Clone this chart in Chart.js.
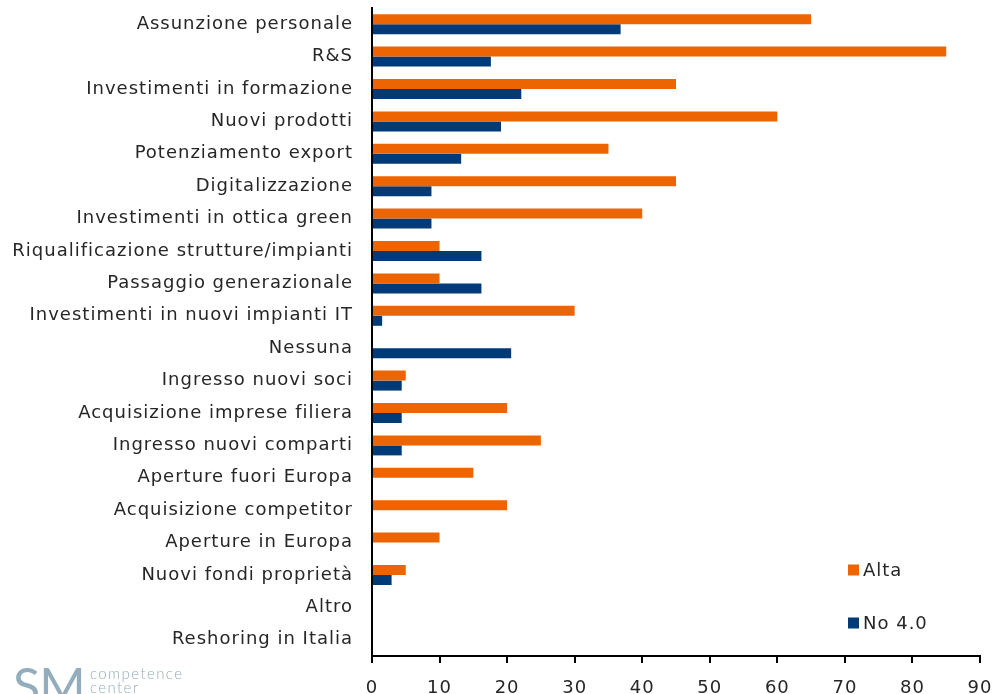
<!DOCTYPE html>
<html>
<head>
<meta charset="utf-8">
<script src="https://cdn.jsdelivr.net/npm/chart.js@4.4.1/dist/chart.umd.min.js"></script>
<style>
  html, body { margin: 0; padding: 0; background: #fff; overflow: hidden; }
  #wrap { position: relative; width: 994px; height: 694px; overflow: hidden; }
  #c { position: absolute; left: 0; top: 0; }
  .logo { position: absolute; color: #93adbc; font-family: "Lato", "DejaVu Sans", sans-serif; }
  .logo.big { left: 13px; top: 660px; font-size: 50px; font-weight: 400; letter-spacing: -1px; line-height: 1; }
  .logo.small { left: 90px; font-size: 15px; font-weight: 300; letter-spacing: 1.4px; line-height: 1; }
</style>
</head>
<body>
<div id="wrap">
  <canvas id="c" width="994" height="694"></canvas>
  <div class="logo big">SM</div>
  <div class="logo small" style="top:666px">competence</div>
  <div class="logo small" style="top:680px">center</div>
</div>
<script>
// Categories, top to bottom
const categories = [
  "Assunzione personale",
  "R&S",
  "Investimenti in formazione",
  "Nuovi prodotti",
  "Potenziamento export",
  "Digitalizzazione",
  "Investimenti in ottica green",
  "Riqualificazione strutture/impianti",
  "Passaggio generazionale",
  "Investimenti in nuovi impianti IT",
  "Nessuna",
  "Ingresso nuovi soci",
  "Acquisizione imprese filiera",
  "Ingresso nuovi comparti",
  "Aperture fuori Europa",
  "Acquisizione competitor",
  "Aperture in Europa",
  "Nuovi fondi proprietà",
  "Altro",
  "Reshoring in Italia"
];

// Share of firms (%) per group
const alta  = [65, 85, 45, 60, 35, 45, 40, 10, 10, 30, 0, 5, 20, 25, 15, 20, 10, 5, 0, 0];
const no40  = [36.8, 17.6, 22.1, 19.1, 13.2, 8.8, 8.8, 16.2, 16.2, 1.5, 20.6, 4.4, 4.4, 4.4, 0, 0, 0, 2.9, 0, 0];

const seriesNames = ["Alta", "No 4.0"];
const xTicks = [0, 10, 20, 30, 40, 50, 60, 70, 80, 90];

const ORANGE = "#ED6403";
const BLUE = "#003B78";
const TEXT = "#262626";
const FONT = "'DejaVu Sans', 'Lato', sans-serif";
const FONT_SIZE = 18;

// Slightly wider letter spacing for all canvas text
const textSpacing = {
  id: "textSpacing",
  beforeDraw(chart) { chart.ctx.letterSpacing = "1px"; }
};

// Legend drawn inside the plot area, lower right
const sideLegend = {
  id: "sideLegend",
  afterDraw(chart) {
    const ctx = chart.ctx;
    const rowsY = [570, 623];
    ctx.save();
    ctx.letterSpacing = "1px";
    ctx.font = FONT_SIZE + "px " + FONT;
    ctx.textBaseline = "middle";
    chart.data.datasets.forEach((ds, i) => {
      const y = rowsY[i];
      ctx.fillStyle = ds.backgroundColor;
      ctx.fillRect(848, y - 5.5, 11, 11);
      ctx.fillStyle = TEXT;
      ctx.fillText(ds.label, 863, y + 1);
    });
    ctx.restore();
  }
};

new Chart(document.getElementById("c"), {
  type: "bar",
  data: {
    labels: categories,
    datasets: [
      { label: seriesNames[0], data: alta, backgroundColor: ORANGE, borderWidth: 0 },
      { label: seriesNames[1], data: no40, backgroundColor: BLUE, borderWidth: 0 }
    ]
  },
  options: {
    indexAxis: "y",
    responsive: false,
    animation: false,
    devicePixelRatio: 1,
    categoryPercentage: 0.617,
    barPercentage: 1,
    layout: { padding: { top: 8, right: 14, left: 0, bottom: 0 } },
    plugins: {
      legend: { display: false },
      tooltip: { enabled: false }
    },
    scales: {
      x: {
        min: 0,
        max: 90,
        afterBuildTicks(scale) { scale.ticks = xTicks.map(v => ({ value: v })); },
        afterFit(scale) { scale.height = 38; scale.paddingLeft = 0; scale.paddingRight = 0; },
        border: { display: true, color: "#000", width: 2 },
        grid: { display: true, drawOnChartArea: false, drawTicks: true, tickLength: 7, color: "#000", lineWidth: 2 },
        ticks: {
          color: TEXT,
          padding: 15,
          maxRotation: 0,
          font: { family: FONT, size: FONT_SIZE }
        }
      },
      y: {
        afterFit(scale) { scale.width = 372; scale.paddingTop = 0; scale.paddingBottom = 0; },
        border: { display: true, color: "#000", width: 2 },
        grid: { display: false, drawTicks: false },
        ticks: {
          color: TEXT,
          padding: 19,
          autoSkip: false,
          font: { family: FONT, size: FONT_SIZE }
        }
      }
    }
  },
  plugins: [textSpacing, sideLegend]
});
</script>
</body>
</html>
